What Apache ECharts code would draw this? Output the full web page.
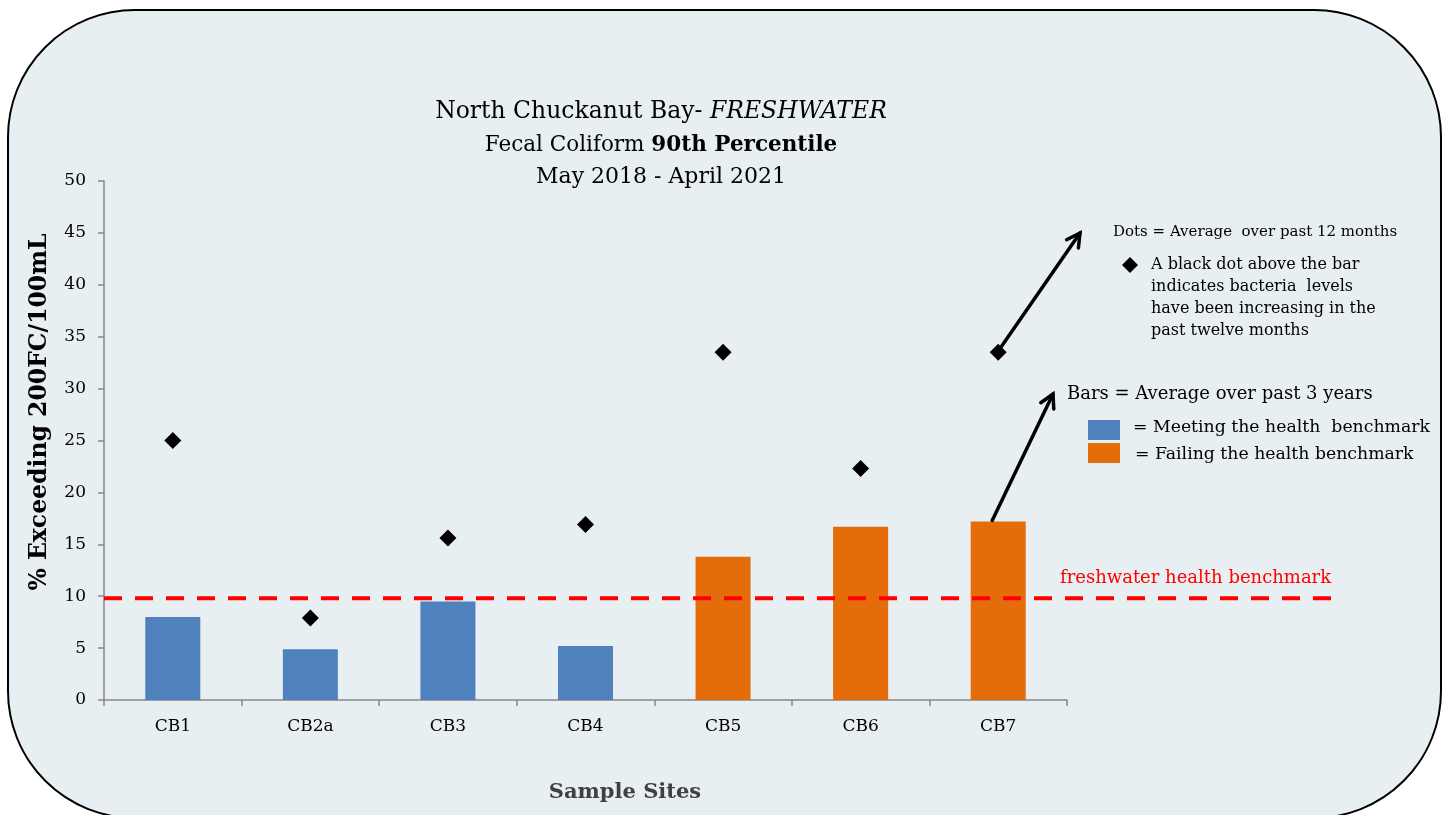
<!DOCTYPE html>
<html><head><meta charset="utf-8">
<script src="https://cdn.jsdelivr.net/npm/echarts@6.0.0/dist/echarts.min.js"></script>
<style>
html,body{margin:0;padding:0;background:#fff;overflow:hidden;width:1447px;height:815px}
#bg{position:absolute;left:7px;top:9px;width:1431px;height:806px;border:2px solid #000;border-radius:128px;background:#e8eff2}
#c{position:absolute;left:0;top:0;width:1447px;height:815px}
</style>
</head><body><div id="bg"></div><div id="c"></div>
<script>
// ---- data ----
const sites = ['CB1','CB2a','CB3','CB4','CB5','CB6','CB7'];
const bars3yr = [8.0, 4.9, 9.5, 5.2, 13.8, 16.7, 17.2];
const dots12mo = [25.0, 7.9, 15.6, 16.9, 33.5, 22.3, 33.5];
const benchmark = 9.8;
const yMin = 0, yMax = 50, yStep = 5;

const SERIF = '"DejaVu Serif", "Liberation Serif", serif';
const BLUE = '#4f81bd', ORANGE = '#e46c0a';
const chart = echarts.init(document.getElementById('c'), null, {renderer:'canvas'});

chart.setOption({
  backgroundColor: 'transparent',
  animation: false,
  grid: {left: 104, top: 181, right: 380, bottom: 115, containLabel: false},
  xAxis: {
    type: 'category', data: sites, boundaryGap: true,
    axisLine: {lineStyle: {color: '#868686', width: 1.5}},
    axisTick: {show: true, length: 6, lineStyle: {color: '#868686', width: 1.5}},
    axisLabel: {fontFamily: SERIF, fontSize: 17, color: '#000', margin: 18}
  },
  yAxis: {
    type: 'value', min: yMin, max: yMax, interval: yStep,
    axisLine: {show: true, lineStyle: {color: '#868686', width: 1.5}},
    axisTick: {show: true, length: 6, lineStyle: {color: '#868686', width: 1.5}},
    splitLine: {show: false},
    axisLabel: {fontFamily: SERIF, fontSize: 17, color: '#000', margin: 18}
  },
  series: [
    {type: 'bar', data: bars3yr, barWidth: '40%',
     itemStyle: {color: p => (p.value > benchmark ? ORANGE : BLUE)}, z: 2},
    {type: 'scatter', data: dots12mo, symbol: 'diamond', symbolSize: 17,
     itemStyle: {color: '#000', opacity: 1}, z: 3}
  ]
});

function arrow(x1, y1, x2, y2) {
  const a = Math.atan2(y2 - y1, x2 - x1), L = 15, s = 0.5;
  return [
    {type:'line', z:20, shape:{x1, y1, x2, y2}, style:{stroke:'#000', lineWidth:3.5, lineCap:'round'}},
    {type:'polyline', z:20, shape:{points:[
      [x2 - L*Math.cos(a - s), y2 - L*Math.sin(a - s)], [x2, y2],
      [x2 - L*Math.cos(a + s), y2 - L*Math.sin(a + s)]]},
     style:{stroke:'#000', fill:null, lineWidth:3.5, lineJoin:'miter', lineCap:'round'}}
  ];
}

const yb = chart.convertToPixel({yAxisIndex: 0}, benchmark);
const dot7 = chart.convertToPixel({gridIndex: 0}, [6, dots12mo[6]]);
const bar7 = chart.convertToPixel({gridIndex: 0}, [6, bars3yr[6]]);
const txt = (x, y, text, size, extra) => Object.assign({type:'text', z:20, style: Object.assign({
  x, y, text, fontFamily: SERIF, fontSize: size, fill:'#000', align:'left', verticalAlign:'middle'}, extra || {})});

const graphics = [
  // title
  {type:'text', z:20, style:{x:661, y:112, align:'center', verticalAlign:'middle',
    text:'{a|North Chuckanut Bay- }{ai|FRESHWATER}',
    rich:{a:{fontFamily:SERIF, fontSize:23.5, fill:'#000'}, ai:{fontFamily:SERIF, fontSize:23.5, fontStyle:'italic', fill:'#000'}}}},
  {type:'text', z:20, style:{x:661, y:145, align:'center', verticalAlign:'middle',
    text:'{b|Fecal Coliform }{bb|90th Percentile}',
    rich:{b:{fontFamily:SERIF, fontSize:21.5, fill:'#000'}, bb:{fontFamily:SERIF, fontSize:21.5, fontWeight:'bold', fill:'#000'}}}},
  txt(661, 177, 'May 2018 - April 2021', 22, {align:'center'}),
  // axis names
  {type:'text', z:20, x:40, y:412, rotation:Math.PI/2, style:{x:0, y:0, text:'% Exceeding 200FC/100mL',
    fontFamily:SERIF, fontSize:23.5, fontWeight:'bold', fill:'#000', align:'center', verticalAlign:'middle'}},
  txt(625, 793, 'Sample Sites', 21, {align:'center', fontWeight:'bold', fill:'#404040'}),
  // benchmark line
  {type:'line', z:15, shape:{x1:104, y1:yb, x2:1340, y2:yb}, style:{stroke:'#ff0000', lineWidth:4, lineDash:[18,13]}},
  txt(1060, 578, 'freshwater health benchmark', 18, {fill:'#ff0000'}),
  // annotations
  txt(1113, 232, 'Dots = Average  over past 12 months', 15),
  {type:'polygon', z:20, shape:{points:[[1130,257],[1138,265],[1130,273],[1122,265]]}, style:{fill:'#000'}},
  txt(1151, 265, 'A black dot above the bar', 16),
  txt(1151, 287, 'indicates bacteria  levels', 16),
  txt(1151, 309, 'have been increasing in the', 16),
  txt(1151, 331, 'past twelve months', 16),
  txt(1067, 394, 'Bars = Average over past 3 years', 18),
  {type:'rect', z:20, shape:{x:1088, y:420, width:32, height:20}, style:{fill:BLUE}},
  {type:'rect', z:20, shape:{x:1088, y:443, width:32, height:20}, style:{fill:ORANGE}},
  txt(1133, 428, '= Meeting the health  benchmark', 17.3),
  txt(1135, 455, '= Failing the health benchmark', 17.3)
].concat(arrow(dot7[0] + 2, dot7[1] - 4, 1080, 233), arrow(bar7[0] - 6, bar7[1] - 1, 1053, 394));

chart.setOption({graphic: {elements: graphics}});
</script>
</body></html>
